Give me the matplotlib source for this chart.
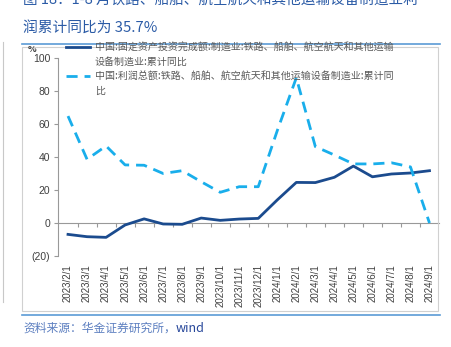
import numpy as np
import matplotlib
matplotlib.use('Agg')
import matplotlib.pyplot as plt
from matplotlib.lines import Line2D
from matplotlib.patches import Rectangle

plt.rcParams['font.family'] = ['Noto Sans CJK SC', 'DejaVu Sans']

# data
months = ['2023/2/1', '2023/3/1', '2023/4/1', '2023/5/1', '2023/6/1', '2023/7/1',
          '2023/8/1', '2023/9/1', '2023/10/1', '2023/11/1', '2023/12/1', '2024/1/1',
          '2024/2/1', '2024/3/1', '2024/4/1', '2024/5/1', '2024/6/1', '2024/7/1',
          '2024/8/1', '2024/9/1']
invest_yoy = [-6.9, -8.3, -8.7, -1.2, 2.5, -0.6, -0.8, 3.0, 1.6, 2.4,
              2.8, 14.0, 24.6, 24.5, 27.7, 34.5, 28.0, 29.7, 30.3, 31.7]
profit_yoy = [64.8, 38.6, 46.7, 35.2, 35.0, 30.0, 31.7, 25.0, 18.6, 22.0,
              22.0, 56.0, 88.0, 46.3, 41.2, 35.8, 35.8, 36.5, 34.0, 0.0]
yticks = [-20, 0, 20, 40, 60, 80, 100]
ytick_labels = ['(20)', '0', '20', '40', '60', '80', '100']

label_invest = ['中国:固定资产投资完成额:制造业:铁路、船舶、航空航天和其他运输', '设备制造业:累计同比']
label_profit = ['中国:利润总额:铁路、船舶、航空航天和其他运输设备制造业:累计同', '比']

W, H = 452, 347
fig = plt.figure(figsize=(W / 100, H / 100), dpi=100)

def fx(px):
    return px / W

def fy(py):
    return 1 - py / H

dark = '#1B4B8E'
light = '#19AEEB'
grey = '#404040'

# page elements: title (first line cut by the top edge as in the source), rules, frame
fig.text(fx(23), fy(1), '图 18：1-8 月铁路、船舶、航空航天和其他运输设备制造业利',
         fontsize=10.5, color='#2B5BA6', va='center', ha='left')
fig.text(fx(23), fy(28), '润累计同比为 35.7%', fontsize=10.6, color='#2B5BA6',
         va='center', ha='left')
fig.add_artist(Line2D([fx(22), fx(440)], [fy(43.5), fy(43.5)], color='#5B9BD5', lw=1.2))
fig.add_artist(Rectangle((fx(22), fy(311)), fx(438) - fx(22), fy(47) - fy(311),
                         fill=False, ec='#D0D0D0', lw=0.8))
fig.add_artist(Line2D([fx(22), fx(440)], [fy(315), fy(315)], color='#5B9BD5', lw=1.2))
fig.add_artist(Line2D([fx(3), fx(3)], [fy(42), fy(302)], color='#C8C8C8', lw=0.8))
src = fig.text(fx(23), fy(328), '资料来源：华金证券研究所，', fontsize=8.5,
               color='#5C7FC0', style='italic', va='center', ha='left')
fig.canvas.draw()
bb = src.get_window_extent()
fig.text(bb.x1 / W, fy(328), 'wind', fontsize=9, color='#27479A',
         style='italic', va='center', ha='left')

# axes
ax = fig.add_axes([fx(58.5), fy(256), fx(439) - fx(58.5), fy(58) - fy(256)])
x = np.arange(len(months))
ax.plot(x, invest_yoy, color=dark, lw=2.0, solid_joinstyle='round')
ax.plot(x, profit_yoy, color=light, lw=2.0, dashes=(4, 2.5))

ax.set_xlim(-0.5, len(months) - 0.5)
ax.set_ylim(-20, 100)
ax.set_yticks(yticks)
ax.set_yticklabels(ytick_labels)
ax.set_xticks(x)
ax.set_xticklabels(months, rotation=90, fontsize=7, color=grey, family='Liberation Sans')
ax.tick_params(axis='x', length=0, pad=6)
ax.tick_params(axis='y', length=3, width=0.8, color='#999999', labelsize=7.5,
               labelcolor=grey, pad=3)
for lab in ax.get_yticklabels():
    lab.set_family('Liberation Sans')
for s in ['top', 'right', 'bottom']:
    ax.spines[s].set_visible(False)
ax.spines['left'].set_color('#999999')
ax.spines['left'].set_linewidth(0.8)

# zero line with category-boundary ticks
zero = ax.secondary_xaxis(20 / 120)
zero.set_xticks(np.arange(0.5, len(months) - 0.5, 1.0))
zero.set_xticklabels([])
zero.tick_params(length=3, width=0.8, color='#999999', direction='out')
zero.spines['bottom'].set_color('#999999')
zero.spines['bottom'].set_linewidth(0.8)

fig.text(fx(28), fy(49), '%', fontsize=6.5, color=grey, ha='left', va='center',
         fontweight='bold')

# legend, handles aligned with first line of each label
blank = Line2D([], [], color='none')
handles = [Line2D([], [], color=dark, lw=2.0), blank,
           Line2D([], [], color=light, lw=2.0, dashes=(4, 2.5)), blank]
labels = [label_invest[0], label_invest[1], label_profit[0], label_profit[1]]
leg = fig.legend(handles, labels, loc='upper left', bbox_to_anchor=(fx(66), fy(42)),
                 frameon=False, fontsize=7.2, handlelength=2.4, handletextpad=0.5,
                 labelspacing=0.45, borderpad=0, borderaxespad=0)
for t in leg.get_texts():
    t.set_color('#595959')

fig.savefig('out.png', dpi=100)
